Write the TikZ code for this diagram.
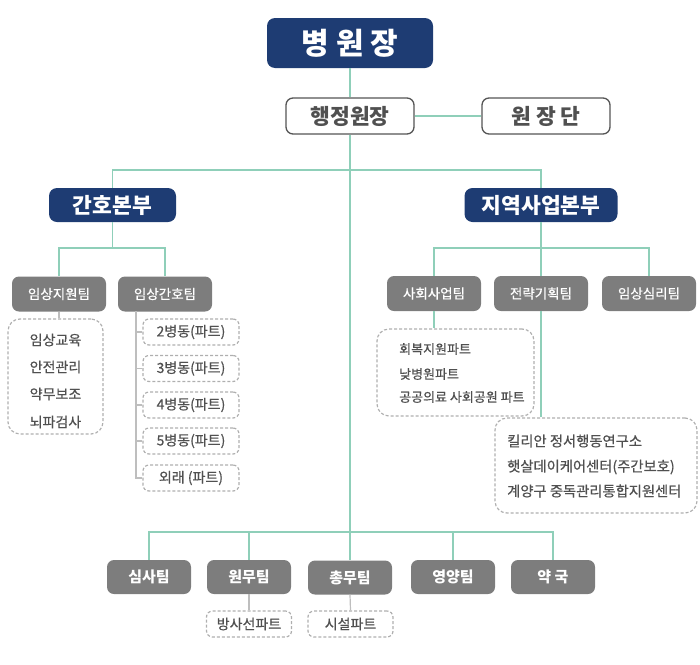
\documentclass[tikz,border=0pt]{standalone}
\usepackage{fontspec}
\setmainfont{Noto Sans CJK KR}
\newfontfamily\krmed[FakeBold=0.6]{Noto Sans CJK KR}
\definecolor{navy}{RGB}{30,60,115}
\definecolor{mint}{RGB}{143,207,185}
\definecolor{boxgray}{RGB}{125,125,125}
\definecolor{lgray}{RGB}{190,190,190}
\definecolor{dashgray}{RGB}{175,175,175}
\definecolor{edgegray}{RGB}{85,85,85}
\definecolor{tgray}{RGB}{80,80,80}
\begin{document}
\begin{tikzpicture}[x=1pt,y=-1pt,
  conn/.style={draw=mint, line width=1.6pt},
  gline/.style={draw=lgray, line width=1.2pt},
  navybox/.style={fill=navy, rounded corners=8pt, text=white, inner sep=0pt,
    font=\bfseries\fontsize{21.5}{25}\selectfont},
  whitebox/.style={draw=edgegray, line width=1.3pt, fill=white, rounded corners=7pt,
    text=tgray, inner sep=0pt, minimum width=128pt, minimum height=36pt,
    font=\bfseries\fontsize{21.5}{25}\selectfont},
  team/.style={fill=boxgray, rounded corners=7pt, text=white, inner sep=0pt,
    minimum width=94pt, minimum height=35pt, font=\krmed\fontsize{13.5}{17}\selectfont},
  bteam/.style={team, minimum width=84pt, minimum height=34pt,
    font=\bfseries\fontsize{15}{18}\selectfont},
  dbox/.style={draw=dashgray, dash pattern=on 3pt off 2pt, line width=1.2pt,
    rounded corners=12pt, inner sep=0pt},
  ward/.style={dbox, rounded corners=6pt, minimum width=96pt, minimum height=26pt,
    text=tgray, font=\krmed\fontsize{14}{17}\selectfont},
  item/.style={text=tgray, inner sep=0pt, font=\krmed\fontsize{14}{17}\selectfont},
  sitem/.style={item, font=\krmed\fontsize{13}{15}\selectfont},
  litem/.style={item, anchor=west, font=\krmed\fontsize{14.3}{17}\selectfont},
]
\useasboundingbox (0,0) rectangle (700,664);

% top levels
\node[navybox, minimum width=166pt, minimum height=50pt,
  font=\bfseries\fontsize{30}{35}\selectfont] (top) at (350,43) {병 원 장};
\node[whitebox] (hj) at (350,116) {행정원장};
\node[whitebox] (wj) at (546,116) {원 장 단};
\node[navybox, minimum width=127pt, minimum height=34pt] (nur) at (112.5,205) {간호본부};
\node[navybox, minimum width=153pt, minimum height=34pt] (reg) at (541,205) {지역사업본부};

% teams
\node[team] (t1) at (59,294) {임상지원팀};
\node[team] (t2) at (165,294) {임상간호팀};
\node[team] (t3) at (434,293.5) {사회사업팀};
\node[team] (t4) at (541,293.5) {전략기획팀};
\node[team] (t5) at (649,293.5) {임상심리팀};

% nursing support dashed box
\node[dbox, minimum width=95pt, minimum height=115pt] (d1) at (55.5,376.5) {};
\node[item] (i1) at (55.5,340) {임상교육};
\node[item] (i2) at (55.5,367) {안전관리};
\node[item] (i3) at (55.5,394) {약무보조};
\node[item] (i4) at (55.5,422) {뇌파검사};

% wards
\node[ward] (w1) at (191,332) {2병동(파트)};
\node[ward] (w2) at (191,368.5) {3병동(파트)};
\node[ward] (w3) at (191,405) {4병동(파트)};
\node[ward] (w4) at (191,441) {5병동(파트)};
\node[ward] (w5) at (191,478) {외래 (파트)};

% social work dashed box
\node[dbox, minimum width=157pt, minimum height=87pt] (d2) at (455.5,372.5) {};
\node[sitem, anchor=west] (s1) at (399,349) {회복지원파트};
\node[sitem, anchor=west] (s2) at (399,374) {낮병원파트};
\node[sitem, anchor=west] (s3) at (399,397) {공공의료 사회공원 파트};

% strategy dashed box
\node[dbox, minimum width=202pt, minimum height=95pt] (d3) at (596,465.5) {};
\node[litem] (c1) at (507,441) {킬리안 정서행동연구소};
\node[litem] (c2) at (507,467) {햇살데이케어센터(주간보호)};
\node[litem] (c3) at (507,491) {계양구 중독관리통합지원센터};

% bottom teams
\node[bteam] (b1) at (149,577) {심사팀};
\node[bteam] (b2) at (249,577) {원무팀};
\node[bteam] (b3) at (350,577.5) {총무팀};
\node[bteam] (b4) at (453,577) {영양팀};
\node[bteam] (b5) at (553,577) {약 국};
\node[ward, minimum width=85pt] (p1) at (249,624) {방사선파트};
\node[ward, minimum width=85pt] (p2) at (350.5,624) {시설파트};

% junctions
\coordinate (jn) at (350,170);
\coordinate (bj) at (350,532);
\coordinate (nj) at (112.5,248);
\coordinate (rj) at (541,248);
\coordinate (tr) at (136,311);

% green connectors
\draw[conn] (top.south) -- (hj.north);
\draw[conn] (hj.east) -- (wj.west);
\draw[conn] (hj.south) -- (bj);
\draw[conn] (nur.north) |- (jn) -| (reg.north);
\draw[conn] (nur.south) -- (nj);
\draw[conn] (t1.north) |- (nj) -| (t2.north);
\draw[conn] (reg.south) -- (rj);
\draw[conn] (t3.north) |- (rj) -| (t5.north);
\draw[conn] (t4.north) -- (rj);
\draw[conn] (t3.south) -- (t3.south |- d2.north);
\draw[conn] (t4.south) -- (t4.south |- d3.north);
\draw[conn] (b1.north) |- (bj) -| (b5.north);
\draw[conn] (b2.north) -- (b2.north |- bj);
\draw[conn] (b3.north) -- (bj);
\draw[conn] (b4.north) -- (b4.north |- bj);

% gray connectors
\draw[gline] (t1.south) -- (t1.south |- d1.north);
\draw[gline] (tr) |- (w5.west);
\draw[gline] (w1.west) -- (w1.west -| tr);
\draw[gline] (w2.west) -- (w2.west -| tr);
\draw[gline] (w3.west) -- (w3.west -| tr);
\draw[gline] (w4.west) -- (w4.west -| tr);
\draw[gline] (b2.south) -- (p1.north);
\draw[gline] (b3.south) -- (p2.north);
\end{tikzpicture}
\end{document}
